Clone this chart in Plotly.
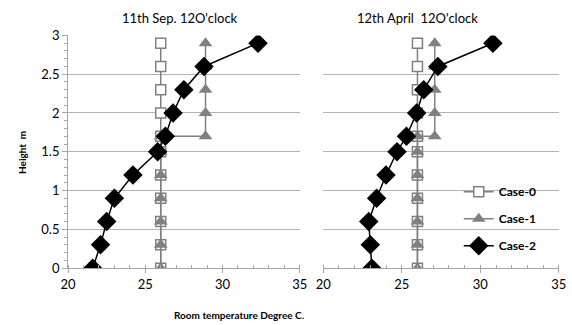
import plotly.graph_objects as go

heights = [0, 0.3, 0.6, 0.9, 1.2, 1.5, 1.7, 2.0, 2.3, 2.6, 2.9]
heights_c1 = [0, 0.3, 0.6, 0.9, 1.2, 1.5, 1.7, 1.7, 2.0, 2.3, 2.6, 2.9]

sep_case0 = [26.0] * 11
sep_case1 = [26.0, 26.0, 26.0, 26.0, 26.0, 26.0, 26.0, 28.9, 28.9, 28.9, 28.9, 28.9]
sep_case2 = [21.6, 22.1, 22.5, 23.0, 24.2, 25.8, 26.3, 26.8, 27.5, 28.8, 32.3]

apr_case0 = [26.0] * 11
apr_case1 = [26.0, 26.0, 26.0, 26.0, 26.0, 26.0, 26.0, 27.1, 27.1, 27.1, 27.1, 27.1]
apr_case2 = [23.1, 23.0, 22.9, 23.4, 24.0, 24.7, 25.3, 25.95, 26.4, 27.3, 30.8]

titles = ["11th Sep. 12O'clock", "12th April  12O'clock"]
series_names = ["Case-0", "Case-1", "Case-2"]

GRAY = "#808080"
FONT = "Lato"

fig = go.Figure()

panels = [("x", "y", sep_case0, sep_case1, sep_case2, True),
          ("x2", "y2", apr_case0, apr_case1, apr_case2, False)]

for xa, ya, c0, c1, c2, show in panels:
    fig.add_trace(go.Scatter(x=c0, y=heights, xaxis=xa, yaxis=ya, mode="lines+markers",
                             name=series_names[0], legendgroup="g0", showlegend=show,
                             line=dict(color=GRAY, width=1.5),
                             marker=dict(symbol="square", size=10, color="white",
                                         line=dict(color=GRAY, width=1.5))))
    fig.add_trace(go.Scatter(x=c1, y=heights_c1, xaxis=xa, yaxis=ya, mode="lines+markers",
                             name=series_names[1], legendgroup="g1", showlegend=show,
                             line=dict(color=GRAY, width=1.5),
                             marker=dict(symbol="triangle-up", size=12, color=GRAY,
                                         line=dict(color=GRAY, width=0))))
    fig.add_trace(go.Scatter(x=c2, y=heights, xaxis=xa, yaxis=ya, mode="lines+markers",
                             name=series_names[2], legendgroup="g2", showlegend=show,
                             line=dict(color="black", width=1.5),
                             marker=dict(symbol="diamond", size=15, color="black")))

xcommon = dict(range=[20, 35], dtick=5, showgrid=False, zeroline=False, automargin=False,
               showline=True, linecolor="#a6a6a6", linewidth=1,
               ticks="outside", ticklen=4, tickcolor="#a6a6a6",
               minor=dict(dtick=1, ticks="inside", ticklen=3, tickcolor="#a6a6a6"),
               tickfont=dict(family=FONT, size=13, color="black"))
ycommon = dict(range=[0, 3], dtick=0.5, showgrid=True, gridcolor="#b3b3b3", gridwidth=1,
               zeroline=False, automargin=False,
               tickfont=dict(family=FONT, size=13, color="black"))

fig.update_layout(
    width=572, height=325, margin=dict(l=0, r=0, t=0, b=0, autoexpand=False),
    paper_bgcolor="white", plot_bgcolor="white",
    xaxis=dict(domain=[0.119, 0.524], anchor="y", **xcommon),
    xaxis2=dict(domain=[0.565, 0.977], anchor="y2", **xcommon),
    yaxis=dict(domain=[0.175, 0.891], anchor="x", showline=True, linecolor="#a6a6a6",
               ticks="outside", ticklen=5, tickcolor="#a6a6a6",
               minor=dict(dtick=0.1, ticks="outside", ticklen=3, tickcolor="#a6a6a6"),
               **ycommon),
    yaxis2=dict(domain=[0.175, 0.891], anchor="x2", showline=False, showticklabels=False,
                ticks="", **ycommon),
    showlegend=True,
    legend=dict(x=0.802, y=0.455, xanchor="left", yanchor="top", bgcolor="rgba(0,0,0,0)",
                traceorder="grouped", tracegroupgap=8,
                font=dict(family=FONT, size=12, color="black", weight="bold")),
    annotations=[
        dict(text=titles[0], x=180 / 572, y=1 - 18 / 325, xref="paper", yref="paper",
             xanchor="center", yanchor="middle",
             showarrow=False, font=dict(family=FONT, size=13, color="black")),
        dict(text=titles[1], x=417 / 572, y=1 - 18 / 325, xref="paper", yref="paper",
             xanchor="center", yanchor="middle",
             showarrow=False, font=dict(family=FONT, size=13, color="black")),
        dict(text="Room temperature Degree C.", x=239 / 572, y=1 - 315 / 325,
             xref="paper", yref="paper", showarrow=False, xanchor="center", yanchor="middle",
             font=dict(family=FONT, size=10, color="black", weight="bold")),
        dict(text="Height  m", x=22 / 572, y=1 - 153 / 325, xref="paper", yref="paper",
             showarrow=False, textangle=-90, xanchor="center", yanchor="middle",
             font=dict(family=FONT, size=10, color="black", weight="bold")),
    ],
)

fig.write_html("out.html", config={"displayModeBar": False},
               post_script="document.body.style.margin='0';document.body.style.overflow='hidden';")
